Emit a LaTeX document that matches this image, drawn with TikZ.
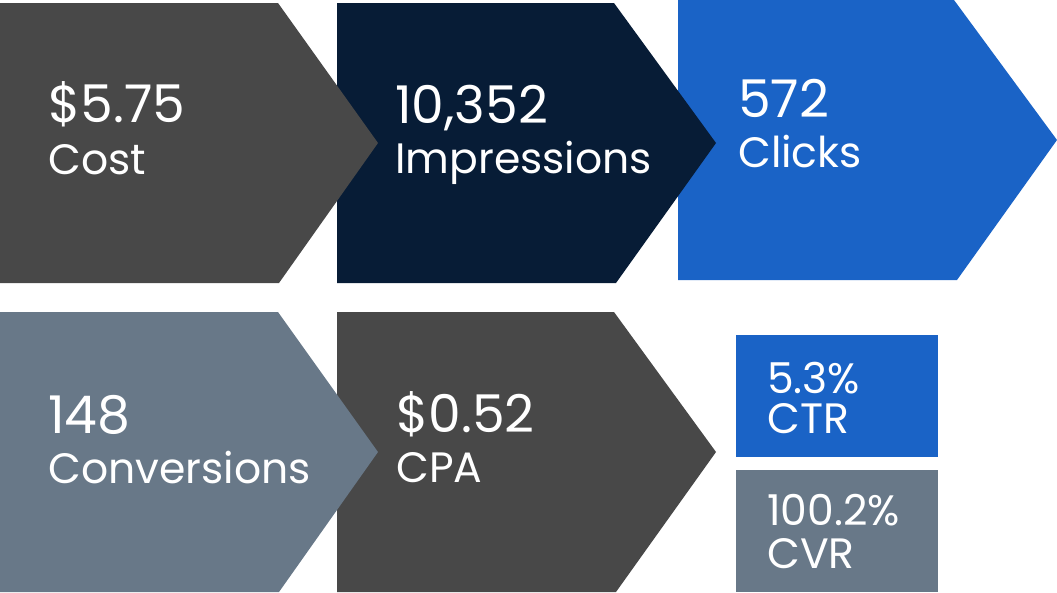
\documentclass[tikz,border=0pt]{standalone}
\usepackage{fontspec}
\setmainfont{Poppins}
\definecolor{cdark}{HTML}{484848}
\definecolor{cnavy}{HTML}{071C36}
\definecolor{cblue}{HTML}{1A63C6}
\definecolor{cslate}{HTML}{687888}
\tikzset{
  big/.style={anchor=base west, inner sep=0pt, text=white, font=\fontsize{52}{52}\selectfont},
  small/.style={anchor=base west, inner sep=0pt, text=white, font=\fontsize{42.5}{42.5}\selectfont},
}
\begin{document}
\begin{tikzpicture}[x=1pt,y=-1pt]
\useasboundingbox (0,0) rectangle (1057,592);
% top row (drawn right to left so each tip overlaps the next box)
\fill[cblue] (678,0) -- (954,0) -- (1057,140) -- (957,280) -- (678,280) -- cycle;
\fill[cnavy] (337,3) -- (614,3) -- (716,143) -- (616,283) -- (337,283) -- cycle;
\fill[cdark] (0,3) -- (278,3) -- (378,143) -- (279,283) -- (0,283) -- cycle;
% bottom row
\fill[cdark] (337,312) -- (614,312) -- (716,452) -- (616,592) -- (337,592) -- cycle;
\fill[cslate] (0,312) -- (278,312) -- (378,452) -- (279,592) -- (0,592) -- cycle;
\fill[cblue] (736,335) rectangle (938,457);
\fill[cslate] (736,470) rectangle (938,592);
% texts
\node[big] (costv) at (48,122) {\$5.75};
\node[small] (costl) at (48,174) {Cost};
\node[big] (impv) at (395,123) {10,352};
\node[small] (impl) at (395,173) {Impressions};
\node[big] (clkv) at (738,117) {572};
\node[small] (clkl) at (738,167) {Clicks};
\node[big] (convv) at (48,433) {148};
\node[small] (convl) at (48,483) {Conversions};
\node[big] (cpav) at (396,432) {\$0.52};
\node[small] (cpal) at (396,482) {CPA};
\node[small] (ctrv) at (767,393) {5.3\%};
\node[small] (ctrl) at (767,433) {CTR};
\node[small] (cvrv) at (767,525) {100.2\%};
\node[small] (cvrl) at (767,568) {CVR};
\end{tikzpicture}
\end{document}
